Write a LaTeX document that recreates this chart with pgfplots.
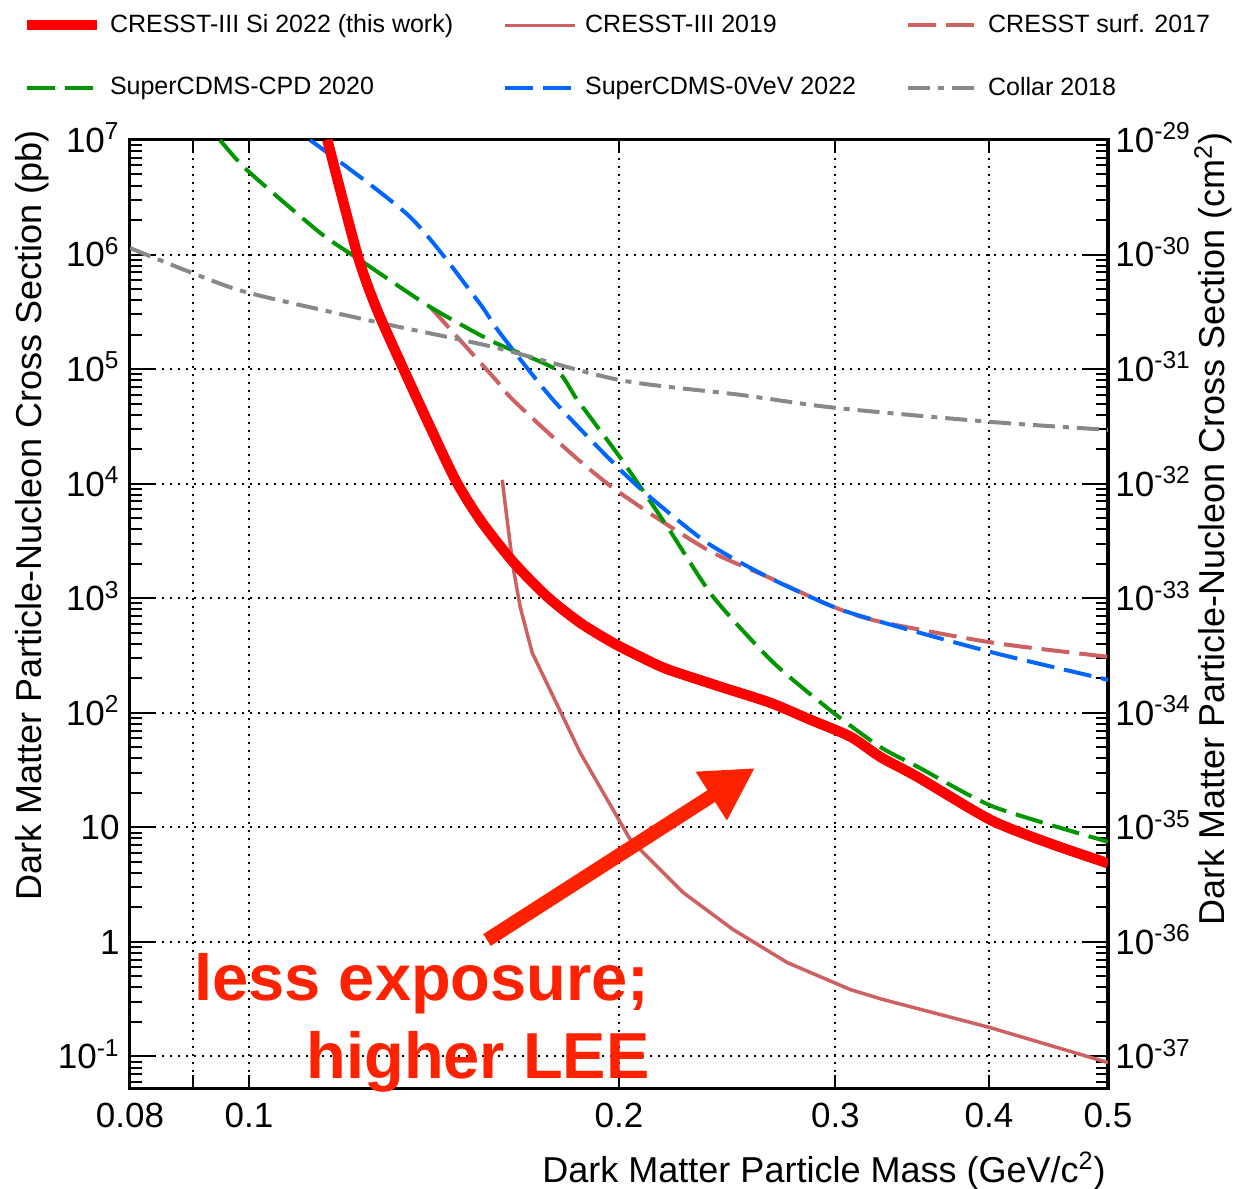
\documentclass[border=0pt]{standalone}
\usepackage{fontspec}
\setmainfont{Liberation Sans}
\usepackage{pgfplots}
\pgfplotsset{compat=1.18}
\usetikzlibrary{arrows.meta}
\definecolor{cred}{RGB}{255,0,0}
\definecolor{cpink}{RGB}{205,96,96}
\definecolor{cgreen}{RGB}{0,150,0}
\definecolor{cblue}{RGB}{0,102,255}
\definecolor{cgrey}{RGB}{136,136,136}
\definecolor{carrow}{RGB}{255,34,0}
\newcommand{\tsup}[1]{\textsuperscript{#1}}
\newcommand{\tickfont}{\fontsize{17.5}{20}\selectfont}
\newcommand{\titlefont}{\fontsize{18}{21}\selectfont}
\pgfplotsset{
  myaxis/.style={
    at={(0,0)}, anchor=south west,
    scale only axis, width=489pt, height=474pt,
    xmin=0.08, xmax=0.5, ymin=0.053, ymax=1e7,
    tick align=inside,
    axis line style={line width=1.5pt},
    tick style={black, line width=1pt},
    grid style={black, line width=1pt, dash pattern=on 1pt off 3pt},
  }
}
\begin{document}
\begin{tikzpicture}[x=1pt,y=1pt]
\path[use as bounding box] (-65,-50) rectangle (552,544);

% y ticks and y grid (left)
\begin{loglogaxis}[myaxis,
  xtick=\empty,
  ytick={0.1,1,10,100,1000,1e4,1e5,1e6,1e7},
  yticklabels={10\tsup{-1},1,10,10\tsup{2},10\tsup{3},10\tsup{4},10\tsup{5},10\tsup{6},10\tsup{7}},
  minor ytick={0.06,0.07,0.08,0.09,0.2,0.3,0.4,0.5,0.6,0.7,0.8,0.9,2,3,4,5,6,7,8,9,20,30,40,50,60,70,80,90,200,300,400,500,600,700,800,900,2000,3000,4000,5000,6000,7000,8000,9000,2e4,3e4,4e4,5e4,6e4,7e4,8e4,9e4,2e5,3e5,4e5,5e5,6e5,7e5,8e5,9e5,2e6,3e6,4e6,5e6,6e6,7e6,8e6,9e6},
  ymajorgrids,
  major tick length=12.5pt, minor tick length=6pt,
  yticklabel pos=left,
  yticklabel style={font=\tickfont, anchor=base east, yshift=-6.2pt, inner sep=0pt, xshift=-5pt},
]
\end{loglogaxis}

% right labels
\begin{loglogaxis}[myaxis,
  axis x line=none, axis y line*=right,
  ytick={0.1,1,10,100,1000,1e4,1e5,1e6,1e7},
  yticklabels={10\tsup{-37},10\tsup{-36},10\tsup{-35},10\tsup{-34},10\tsup{-33},10\tsup{-32},10\tsup{-31},10\tsup{-30},10\tsup{-29}},
  major tick length=0pt, minor tick length=0pt,
  ytick style={draw=none},
  yticklabel style={font=\tickfont, anchor=base west, yshift=-6.2pt, inner sep=0pt, xshift=3.5pt},
]
\end{loglogaxis}

% data, x ticks, legend
\begin{loglogaxis}[myaxis,
  ytick=\empty,
  xtick={0.08,0.1,0.2,0.3,0.4,0.5},
  xticklabels={0.08,0.1,0.2,0.3,0.4,0.5},
  minor xtick={0.09},
  xmajorgrids, xminorgrids,
  major tick length=6.5pt, minor tick length=6.5pt,
  xticklabel style={font=\tickfont, inner sep=0pt, yshift=-7.5pt},
  legend image code/.code={\draw[#1, line cap=butt] (0pt,0pt) -- (35pt,0pt);},
  legend cell align=left,
  legend columns=3,
  legend style={
    at={(axis description cs:-0.1104,1.132)}, anchor=north west,
    draw=none, fill=none, inner sep=0pt, outer sep=0pt,
    font=\fontsize{12.5}{15}\selectfont,
    nodes={inner sep=0pt},
    /tikz/every odd column/.append style={column sep=4pt},
    /tikz/every even column/.append style={column sep=25pt},
    row sep=20.5pt,
  },
]
\addplot[cred, line width=5pt, line join=round, smooth, tension=0.45] coordinates {
(0.1158,1e7)(0.1225,1e6)(0.1271,3.29e5)(0.1348,8.05e4)(0.1404,3.13e4)(0.1472,1.08e4)(0.1542,4830)(0.164,2080)(0.1749,1028)(0.186,610)(0.1978,408)(0.2082,308)(0.2190,240)(0.2418,169)(0.2657,122)(0.2862,87)(0.3086,61.8)(0.3266,41)(0.35,27.5)(0.4013,11.6)(0.449,7.2)(0.5,4.85)
};
\addlegendentry{CRESST-III Si 2022 (this work)}
\addplot[cpink, line width=1.75pt, line join=round] coordinates {
(0.1607,1.08e4)(0.1622,4830)(0.164,1880)(0.1662,841)(0.17,334)(0.186,44.8)(0.2043,7.8)(0.2256,2.69)(0.2477,1.28)(0.2742,0.659)(0.3086,0.383)(0.3283,0.313)(0.4013,0.178)(0.5,0.0883)
};
\addlegendentry{CRESST-III 2019}
\addplot[cpink, line width=2pt, dash pattern=on 14pt off 5pt, line join=round, smooth, tension=0.45] coordinates {
(0.1404,3.49e5)(0.158,8.55e4)(0.164,5.38e4)(0.1826,1.86e4)(0.1978,9190)(0.219,4370)(0.2386,2489)(0.2641,1538)(0.2989,841)(0.3266,622)(0.4036,408)(0.5,308)
};
\addlegendentry{CRESST surf. 2017}
\addplot[cgreen, line width=2pt, dash pattern=on 14pt off 5pt, line join=round, smooth, tension=0.4] coordinates {
(0.0947,1e7)(0.0996,5.47e6)(0.1143,1.54e6)(0.1231,8.97e5)(0.1404,3.49e5)(0.158,1.73e5)(0.1775,1e5)(0.185,5.38e4)(0.2005,1.68e4)(0.219,4198)(0.2386,1028)(0.2672,273)(0.2989,100)(0.3266,50)(0.35,33.8)(0.4036,15.1)(0.5,7.48)
};
\addlegendentry{SuperCDMS-CPD 2020}
\addplot[cblue, line width=2pt, dash pattern=on 14pt off 5pt, line join=round, smooth, tension=0.45] coordinates {
(0.1121,1e7)(0.1352,2.13e6)(0.1533,4.02e5)(0.16,2.07e5)(0.1768,5.38e4)(0.1994,1.4e4)(0.2133,7220)(0.236,3040)(0.2641,1538)(0.2989,841)(0.3266,622)(0.4036,334)(0.5,194)
};
\addlegendentry{SuperCDMS-0VeV 2022}
\addplot[cgrey, line width=2pt, dash pattern=on 11pt off 4pt on 3pt off 4pt, line join=round, smooth, tension=0.45] coordinates {
(0.08,1.14e6)(0.0899,6.91e5)(0.1,4.62e5)(0.1279,2.53e5)(0.158,1.56e5)(0.2,8.05e4)(0.251,5.96e4)(0.3,4.59e4)(0.4013,3.46e4)(0.5,2.95e4)
};
\addlegendentry{Collar 2018}
\addplot[cred, line width=5pt, line join=round, smooth, tension=0.45, forget plot] coordinates {
(0.1158,1e7)(0.1225,1e6)(0.1271,3.29e5)(0.1348,8.05e4)(0.1404,3.13e4)(0.1472,1.08e4)(0.1542,4830)(0.164,2080)(0.1749,1028)(0.186,610)(0.1978,408)(0.2082,308)(0.2190,240)(0.2418,169)(0.2657,122)(0.2862,87)(0.3086,61.8)(0.3266,41)(0.35,27.5)(0.4013,11.6)(0.449,7.2)(0.5,4.85)
};
\end{loglogaxis}

% axis titles
\node[rotate=90, anchor=east, inner sep=0pt, font=\titlefont] at (-49,479) {Dark Matter Particle-Nucleon Cross Section (pb)};
\node[rotate=90, anchor=east, inner sep=0pt, font=\titlefont] at (541.5,478) {Dark Matter Particle-Nucleon Cross Section (cm\tsup{2})};
\node[anchor=base east, inner sep=0pt, font=\titlefont] at (488,-47) {Dark Matter Particle Mass (GeV/c\tsup{2})};

% annotation
\draw[carrow, line width=7pt, -{Triangle[length=26pt,width=27pt]}] (178.5,74) -- (312.5,160);
\node[anchor=base east, inner sep=0pt, text=carrow, font=\fontsize{32.5}{39}\selectfont\bfseries] at (260,44) {less exposure;};
\node[anchor=base east, inner sep=0pt, text=carrow, font=\fontsize{32.5}{39}\selectfont\bfseries] at (260,5) {higher LEE};
\end{tikzpicture}
\end{document}
